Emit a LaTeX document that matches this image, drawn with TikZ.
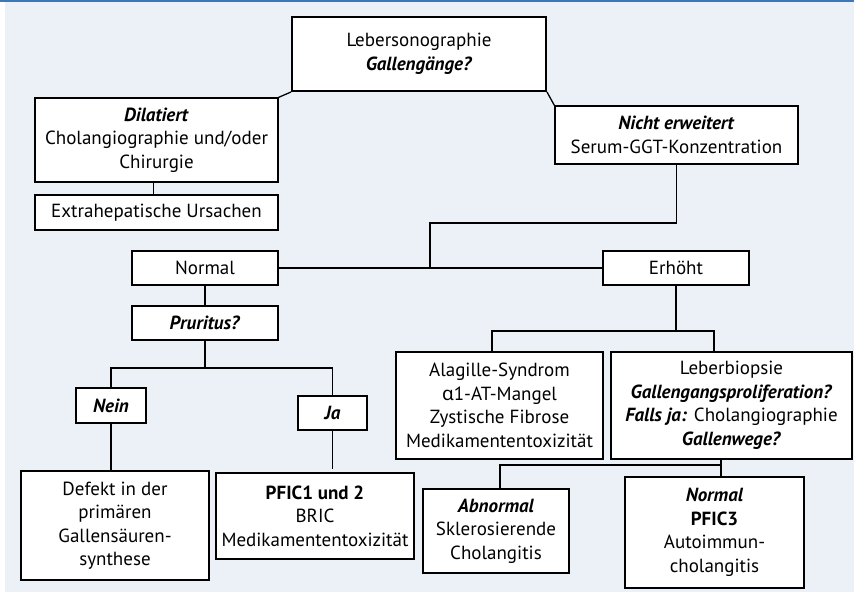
\documentclass[tikz,border=0pt]{standalone}
\usepackage{fontspec}
\setmainfont{PT Sans}
\newfontfamily\grfont{Noto Sans}
\usetikzlibrary{calc}
\definecolor{bgblue}{RGB}{236,241,248}
\definecolor{barblue}{RGB}{58,120,184}
\newcommand\bi[1]{\textbf{\textit{#1}}}
\tikzset{
  box/.style={draw=black, fill=white, line width=1.3pt, align=center, inner sep=1pt,
    font=\fontsize{19}{23.5}\selectfont},
  thickbox/.style={box, line width=2pt},
  conn/.style={draw=black, line width=1.3pt},
}
\begin{document}
\begin{tikzpicture}[x=1pt,y=-1pt]
\useasboundingbox (0,0) rectangle (854,601);
\fill[white] (0,0) rectangle (854,601);
\fill[bgblue] (5,2) rectangle (854,592);
\fill[barblue] (0,0) rectangle (854,2.2);

% nodes
\node[thickbox, minimum width=254, minimum height=74] (top) at (419,54) {Lebersonographie\\\bi{Gallengänge?}};
\node[box, minimum width=243, minimum height=84] (dil) at (156.5,140) {\bi{Dilatiert}\\Cholangiographie und/oder\\Chirurgie};
\node[box, minimum width=243, minimum height=35] (extra) at (156.5,212.5) {Extrahepatische Ursachen};
\node[box, minimum width=243, minimum height=58] (nicht) at (676.5,135) {\bi{Nicht erweitert}\\Serum-GGT-Konzentration};
\node[box, minimum width=146, minimum height=34] (normal) at (205,268) {Normal};
\node[box, minimum width=146, minimum height=34] (erh) at (676,268) {Erhöht};
\node[box, minimum width=146, minimum height=34] (prur) at (205,323) {\bi{Pruritus?}};
\node[box, minimum width=70, minimum height=35] (nein) at (111,405.5) {\bi{Nein}};
\node[box, minimum width=69, minimum height=34] (ja) at (332.5,413) {\bi{Ja}};
\node[box, minimum width=188, minimum height=109] (defekt) at (115,525.5) {Defekt in der\\primären\\Gallensäuren-\\synthese};
\node[thickbox, minimum width=198, minimum height=86] (pfic12) at (315,516) {\textbf{PFIC1 und 2}\\BRIC\\Medikamententoxizität};
\node[box, minimum width=207, minimum height=107] (alag) at (499.5,405.5) {Alagille-Syndrom\\{\grfont α}1-AT-Mangel\\Zystische Fibrose\\Medikamententoxizität};
\node[box, minimum width=241, minimum height=107] (leber) at (731.5,405.5) {Leberbiopsie\\\bi{Gallengangsproliferation?}\\\bi{Falls ja:} Cholangiographie\\\bi{Gallenwege?}};
\node[box, minimum width=146, minimum height=84] (abn) at (496,531) {\bi{Abnormal}\\Sklerosierende\\Cholangitis};
\node[thickbox, minimum width=179, minimum height=111] (pfic3) at (714.5,532.5) {\bi{Normal}\\\textbf{PFIC3}\\Autoimmun-\\cholangitis};

% connectors
\draw[conn] (top.south west) -- (dil.north east);
\draw[conn] (top.south east) -- (nicht.north west);
\draw[conn] ($(dil.south)+(-3,0)$) -- ($(extra.north)+(-3,0)$);
\coordinate (j1) at (430,223);
\draw[conn] (nicht.south) |- (j1) -- (j1 |- normal.east);
\draw[conn] (normal.east) -- (erh.west);
\draw[conn] (normal.south) -- (prur.north);
\coordinate (j2) at (205,368);
\draw[conn] (prur.south) -- (j2);
\draw[conn] (nein.north) |- (j2) -| (ja.north);
\draw[conn] (nein.south) -- (nein.south |- defekt.north);
\draw[conn] (ja.south) -- ($(ja.south |- pfic12.north)+(0,-3)$);
\coordinate (j3) at (676,331);
\draw[conn] (erh.south) -- (j3);
\draw[conn] ($(alag.north)+(-7.5,0)$) |- (j3) -| ($(leber.north)+(-17.5,0)$);
\coordinate (j4) at (721,465);
\draw[conn] (leber.south -| j4) -- (pfic3.north -| j4);
\draw[conn] (j4) -| ($(abn.north)+(4,0)$);
\end{tikzpicture}
\end{document}
